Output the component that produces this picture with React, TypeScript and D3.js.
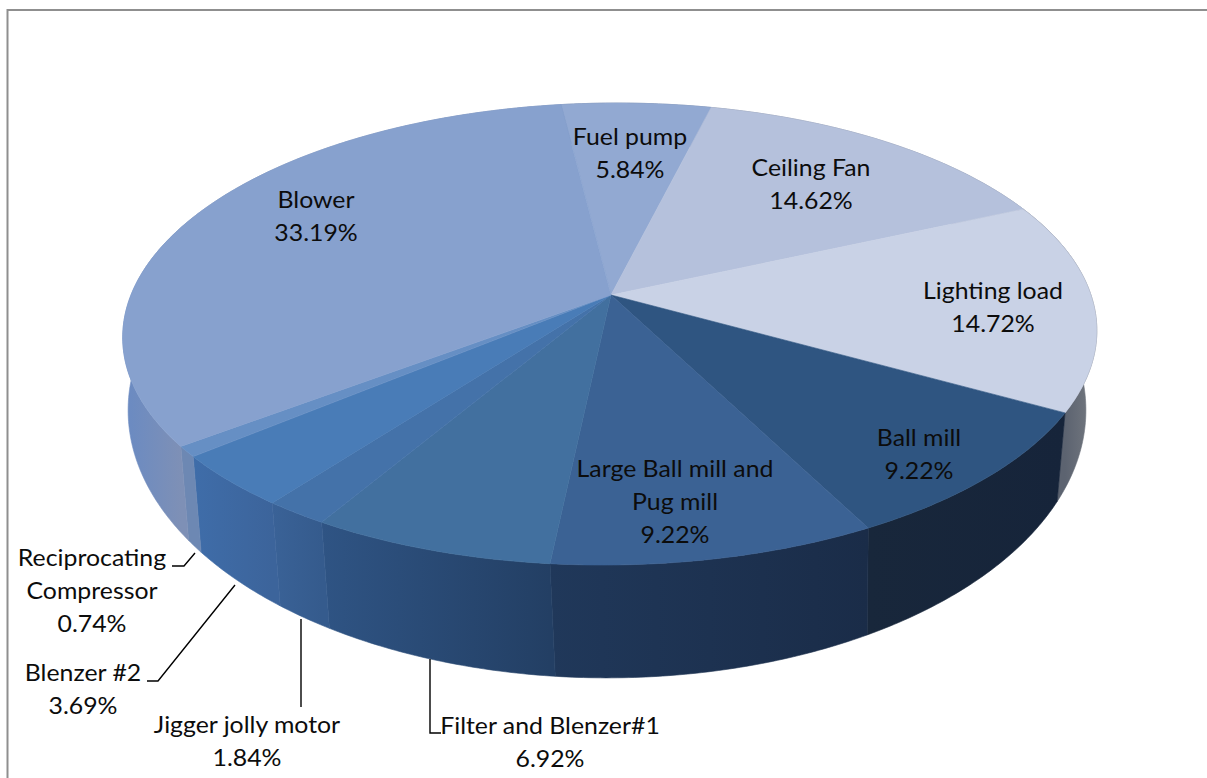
import React from "react";
import * as d3 from "d3";

// Share of energy use per load, clockwise from the top of the pie.
const loads = ["Fuel pump", "Ceiling Fan", "Lighting load", "Ball mill", "Large Ball mill and Pug mill", "Filter and Blenzer#1", "Jigger jolly motor", "Blenzer #2", "Reciprocating Compressor", "Blower"];
const shares = [5.84, 14.62, 14.72, 9.22, 9.22, 6.92, 1.84, 3.69, 0.74, 33.19];
const topColors = ["#92a9d2", "#b5c1dc", "#c9d2e6", "#2f5581", "#3b6294", "#42709f", "#4472a9", "#497cb7", "#668fc4", "#87a1ce"];
const wallLeft = ["#6c7ea0", "#7d8699", "#5c6370", "#18273b", "#20385a", "#2f5484", "#3a6297", "#3f6da9", "#6d88b3", "#6c8bc1"];
const wallRight = ["#6c7ea0", "#7d8699", "#72777f", "#16243a", "#1a2c48", "#233f64", "#355b8d", "#3c649b", "#6d88b3", "#7e90b6"];

const W = 1207;
const H = 778;
const START_DEG = -7.8;
const TILT = 0.169;
const RAD = Math.PI / 180;

// Two perspective views of the same disc: the top face and the lower rim.
const topFace = { cx: 611, cy: 295, a: 480, b: 224.4, shear: -7 };
const baseFace = { cx: 607, cy: 365, a: 472, b: 260, shear: 0 };

type Face = typeof topFace;
const project = (face: Face, angle: number): [number, number] => {
  const u = Math.sin(angle);
  const v = -Math.cos(angle);
  const w = 1 - TILT * v;
  return [face.cx + (face.a * u + face.shear * v) / w, face.cy + (face.b * v) / w];
};

const arcSamples = (face: Face, a0: number, a1: number) => {
  const n = Math.max(2, Math.ceil(Math.abs(a1 - a0) / 0.01));
  return d3.range(n + 1).map((i) => project(face, a0 + ((a1 - a0) * i) / n));
};

const outline = d3.line().curve(d3.curveLinear);

const arcs = d3
  .pie<number>()
  .sort(null)
  .startAngle(START_DEG * RAD)
  .endAngle((START_DEG + 360) * RAD)(shares);

// Horizontal extent of the part of a slice's wall that faces the viewer.
const wallExtent = (start: number, end: number): [number, number] => {
  const from = Math.max(start, 90 * RAD);
  const to = Math.min(end, 270 * RAD);
  const xs = [project(topFace, from)[0], project(topFace, to)[0]];
  return [Math.min(...xs), Math.max(...xs)];
};

// Label lines and the leader polylines for the small front slices.
const labelLines: [string[], number, number][] = [
  [["Fuel pump", "5.84%"], 630, 145],
  [["Ceiling Fan", "14.62%"], 811, 176],
  [["Lighting load", "14.72%"], 993, 299],
  [["Ball mill", "9.22%"], 919, 446],
  [["Large Ball mill and", "Pug mill", "9.22%"], 675, 477],
  [["Filter and Blenzer#1", "6.92%"], 550, 734],
  [["Jigger jolly motor", "1.84%"], 247, 733],
  [["Blenzer #2", "3.69%"], 83, 681],
  [["Reciprocating", "Compressor", "0.74%"], 92, 566],
  [["Blower", "33.19%"], 316, 208],
];
const leaders: [number, number][][] = [
  [[172, 566], [184, 566], [195, 553]],
  [[147, 681], [158, 681], [235, 585]],
  [[301, 619], [301, 707]],
  [[430, 659], [430, 733], [441, 733]],
];

export default function App() {
  return (
    <svg width={W} height={H} viewBox={`0 0 ${W} ${H}`} style={{ position: "absolute", left: 0, top: 0, background: "#fff" }}>
      <defs>
        {arcs.map((d, i) => {
          const [x1, x2] = wallExtent(d.startAngle, d.endAngle);
          return (
            <linearGradient key={i} id={`wall-${i}`} gradientUnits="userSpaceOnUse" x1={x1} x2={x2} y1={0} y2={0}>
              <stop offset="0" stopColor={wallLeft[i]} />
              <stop offset="1" stopColor={wallRight[i]} />
            </linearGradient>
          );
        })}
      </defs>
      <path d="M7.5 778V10H1207" fill="none" stroke="#8f8f8f" strokeWidth={2} />
      {arcs.map((d, i) => {
        const pts = [...arcSamples(topFace, d.startAngle, d.endAngle), ...arcSamples(baseFace, d.endAngle, d.startAngle)];
        return <path key={i} d={`${outline(pts)}Z`} fill={`url(#wall-${i})`} stroke={`url(#wall-${i})`} strokeWidth={0.6} />;
      })}
      {arcs.map((d, i) => {
        const pts: [number, number][] = [[topFace.cx, topFace.cy], ...arcSamples(topFace, d.startAngle, d.endAngle)];
        return <path key={i} d={`${outline(pts)}Z`} fill={topColors[i]} stroke={topColors[i]} strokeWidth={0.6} />;
      })}
      {leaders.map((pts, i) => (
        <path key={i} d={outline(pts) ?? ""} fill="none" stroke="#000" strokeWidth={1.4} />
      ))}
      {labelLines.map(([lines, x, y], i) => (
        <text key={i} transform={`translate(${x} ${y}) scale(1.08 1)`} textAnchor="middle" fontFamily="Lato, 'Open Sans', sans-serif" fontSize={23} fill="#0c0c0c">
          {lines.map((line, j) => (
            <tspan key={j} x={0} dy={j === 0 ? 0 : 33}>
              {line}
            </tspan>
          ))}
        </text>
      ))}
    </svg>
  );
}
